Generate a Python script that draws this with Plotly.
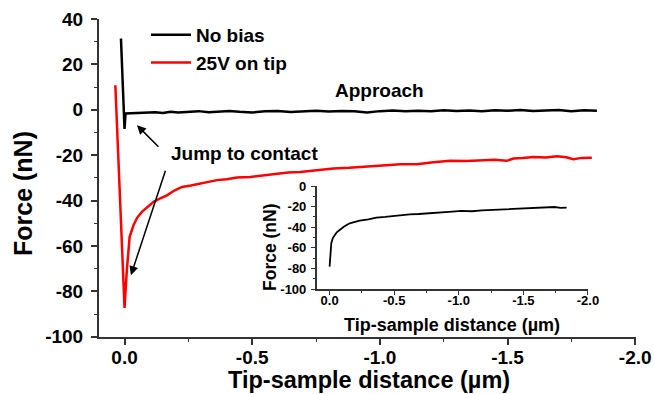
import plotly.graph_objects as go

# ---------------- data ----------------
# Main plot: "No bias" (black)
black_x = [0.014, 0.0, -0.004, -0.03, -0.06, -0.09, -0.12, -0.15, -0.18, -0.21,
           -0.25, -0.29, -0.33, -0.37, -0.41, -0.45, -0.5, -0.55, -0.6, -0.65,
           -0.7, -0.75, -0.8, -0.85, -0.9, -0.95, -1.0, -1.05, -1.1, -1.15,
           -1.2, -1.25, -1.3, -1.35, -1.4, -1.45, -1.5, -1.55, -1.6, -1.65,
           -1.7, -1.75, -1.8, -1.85]
black_y = [31.4, -8.4, -1.6, -1.5, -1.3, -1.5, -1.1, -1.4, -0.9, -1.2,
           -1.0, -0.6, -1.1, -0.8, -0.5, -0.9, -1.2, -0.7, -0.5, -1.0,
           -0.6, -0.4, -0.8, -0.5, -0.7, -1.2, -0.6, -0.3, -0.7, -0.4,
           -0.6, -0.2, -0.5, -0.3, -0.6, -0.2, -0.4, -0.1, -0.5, -0.3,
           -0.1, -0.6, -0.2, -0.4]

# Main plot: "25V on tip" (red)
red_x = [0.036, 0.0, -0.009, -0.02, -0.035, -0.05, -0.068, -0.09, -0.114, -0.14,
         -0.166, -0.195, -0.225, -0.26, -0.296, -0.33, -0.362, -0.40, -0.44, -0.492,
         -0.54, -0.59, -0.64, -0.688, -0.75, -0.818, -0.88, -0.949, -1.01, -1.08,
         -1.145, -1.21, -1.275, -1.34, -1.406, -1.45, -1.497, -1.523, -1.56, -1.601,
         -1.65, -1.693, -1.73, -1.758, -1.79, -1.83]
red_y = [10.8, -87.3, -70.7, -56.0, -50.9, -47.5, -45.0, -42.8, -40.6, -39.0,
         -37.7, -35.6, -34.0, -33.4, -32.5, -31.6, -31.0, -30.6, -29.8, -29.6,
         -28.9, -28.4, -27.6, -27.4, -26.7, -25.9, -25.6, -24.9, -24.6, -24.0,
         -24.0, -23.1, -22.5, -22.6, -22.2, -22.0, -22.5, -21.5, -21.3, -20.8,
         -21.0, -20.5, -20.9, -21.8, -21.2, -21.1]

# Inset curve (black)
inset_x = [0.0, -0.005, -0.013, -0.025, -0.039, -0.055, -0.078, -0.11, -0.155, -0.19,
           -0.233, -0.3, -0.362, -0.43, -0.491, -0.55, -0.62, -0.69, -0.75, -0.82,
           -0.878, -0.95, -1.02, -1.1, -1.18, -1.25, -1.33, -1.4, -1.47, -1.55,
           -1.62, -1.68, -1.74, -1.79, -1.835]
inset_y = [-78.3, -66.0, -55.6, -50.5, -47.6, -45.0, -42.7, -39.5, -36.2, -35.0,
           -33.7, -32.3, -30.7, -30.0, -29.1, -28.3, -27.5, -27.2, -26.5, -25.8,
           -25.2, -24.9, -24.2, -24.5, -23.6, -23.2, -22.8, -22.4, -22.6, -22.0,
           -21.7, -20.9, -20.4, -21.2, -21.0]

series_names = ["No bias", "25V on tip"]
x_title = "Tip-sample distance (µm)"
y_title = "Force (nN)"

# tick values / labels (hyphen minus as in the original)
x_tickvals = [0.0, -0.5, -1.0, -1.5, -2.0]
x_ticktext = ["0.0", "-0.5", "-1.0", "-1.5", "-2.0"]
y_tickvals = [40, 20, 0, -20, -40, -60, -80, -100]
y_ticktext = ["40", "20", "0", "-20", "-40", "-60", "-80", "-100"]
y2_tickvals = [0, -20, -40, -60, -80, -100]
y2_ticktext = ["0", "-20", "-40", "-60", "-80", "-100"]

# ---------------- figure ----------------
W, H = 654, 394
FONT = "Liberation Sans, Arial, sans-serif"


def px_x(p):
    return p / W


def px_y(p):
    return 1 - p / H


fig = go.Figure()
fig.add_trace(go.Scatter(x=black_x, y=black_y, mode="lines", name=series_names[0],
                         line=dict(color="#000000", width=2.5), xaxis="x", yaxis="y"))
fig.add_trace(go.Scatter(x=red_x, y=red_y, mode="lines", name=series_names[1],
                         line=dict(color="#ff0000", width=2.5), xaxis="x", yaxis="y"))
fig.add_trace(go.Scatter(x=inset_x, y=inset_y, mode="lines", showlegend=False,
                         line=dict(color="#000000", width=1.8), xaxis="x2", yaxis="y2"))

axis_common = dict(showgrid=False, zeroline=False, showline=True, linecolor="#333333",
                   ticks="outside", tickcolor="#333333", automargin=False,
                   mirror=False)

fig.update_layout(
    width=W, height=H,
    margin=dict(l=0, r=0, t=0, b=0),
    paper_bgcolor="white", plot_bgcolor="white",
    font=dict(family=FONT, color="#000000"),
    showlegend=True,
    legend=dict(x=px_x(146), y=px_y(16), xanchor="left", yanchor="top",
                bgcolor="rgba(0,0,0,0)", borderwidth=0,
                font=dict(family=FONT, size=19, weight="bold", color="#000000"),
                itemwidth=40, tracegroupgap=0),
    xaxis=dict(domain=[px_x(99), px_x(636)], range=[0.1, -2.003], anchor="y",
               tickvals=x_tickvals, ticktext=x_ticktext, ticklen=6, tickwidth=1.5,
               linewidth=2, ticklabelstandoff=-4,
               tickfont=dict(family=FONT, size=19, weight="bold"),
               minor=dict(dtick=0.25, tick0=0, ticks="outside", ticklen=3,
                          tickwidth=1.2, tickcolor="#333333"),
               **axis_common),
    yaxis=dict(domain=[px_y(336.7), px_y(19)], range=[-100, 40], anchor="x",
               tickvals=y_tickvals, ticktext=y_ticktext, ticklen=6, tickwidth=1.5,
               linewidth=2, ticklabelstandoff=4,
               tickfont=dict(family=FONT, size=19, weight="bold"),
               minor=dict(dtick=10, tick0=0, ticks="outside", ticklen=3,
                          tickwidth=1.2, tickcolor="#333333"),
               **axis_common),
    xaxis2=dict(domain=[px_x(316.7), px_x(588.3)], range=[0.1, -2.003], anchor="y2",
                tickvals=x_tickvals, ticktext=x_ticktext, ticklen=4, tickwidth=1.2,
                linewidth=1.5, ticklabelstandoff=-5,
                tickfont=dict(family=FONT, size=13, weight="bold"),
                minor=dict(dtick=0.25, tick0=0, ticks="outside", ticklen=2,
                           tickwidth=1, tickcolor="#333333"),
                **axis_common),
    yaxis2=dict(domain=[px_y(289), px_y(186)], range=[-100, 0], anchor="x2",
                tickvals=y2_tickvals, ticktext=y2_ticktext, ticklen=4, tickwidth=1.2,
                linewidth=1.5, ticklabelstandoff=2,
                tickfont=dict(family=FONT, size=13, weight="bold"),
                minor=dict(dtick=10, tick0=0, ticks="outside", ticklen=2,
                           tickwidth=1, tickcolor="#333333"),
                **axis_common),
)

bold = lambda s: dict(family=FONT, size=s, weight="bold", color="#000000")

annotations = [
    # axis titles
    dict(x=px_x(369), y=px_y(379.5), xref="paper", yref="paper", text=x_title,
         showarrow=False, font=bold(23.5), xanchor="center", yanchor="middle"),
    dict(x=px_x(23), y=px_y(194), xref="paper", yref="paper", text=y_title,
         showarrow=False, font=bold(25), textangle=-90, xanchor="center", yanchor="middle"),
    dict(x=px_x(452), y=px_y(325), xref="paper", yref="paper", text=x_title,
         showarrow=False, font=bold(18), xanchor="center", yanchor="middle"),
    dict(x=px_x(270), y=px_y(247), xref="paper", yref="paper", text=y_title,
         showarrow=False, font=bold(17.5), textangle=-90, xanchor="center", yanchor="middle"),
    # labels
    dict(x=px_x(379), y=px_y(91), xref="paper", yref="paper", text="Approach",
         showarrow=False, font=bold(19), xanchor="center", yanchor="middle"),
    dict(x=px_x(244), y=px_y(153), xref="paper", yref="paper", text="Jump to contact",
         showarrow=False, font=bold(19), xanchor="center", yanchor="middle"),
    # arrows
    dict(x=-0.0486, y=-6.8, xref="x", yref="y", text="", showarrow=True,
         ax=23, ay=23, axref="pixel", ayref="pixel", arrowhead=2, arrowsize=1.2,
         arrowwidth=1.5, arrowcolor="#000000", standoff=0),
    dict(x=-0.025, y=-72.9, xref="x", yref="y", text="", showarrow=True,
         ax=35, ay=-106, axref="pixel", ayref="pixel", arrowhead=2, arrowsize=1.2,
         arrowwidth=1.5, arrowcolor="#000000", standoff=0),
]
fig.update_layout(annotations=annotations)

fig.write_html("out.html")
